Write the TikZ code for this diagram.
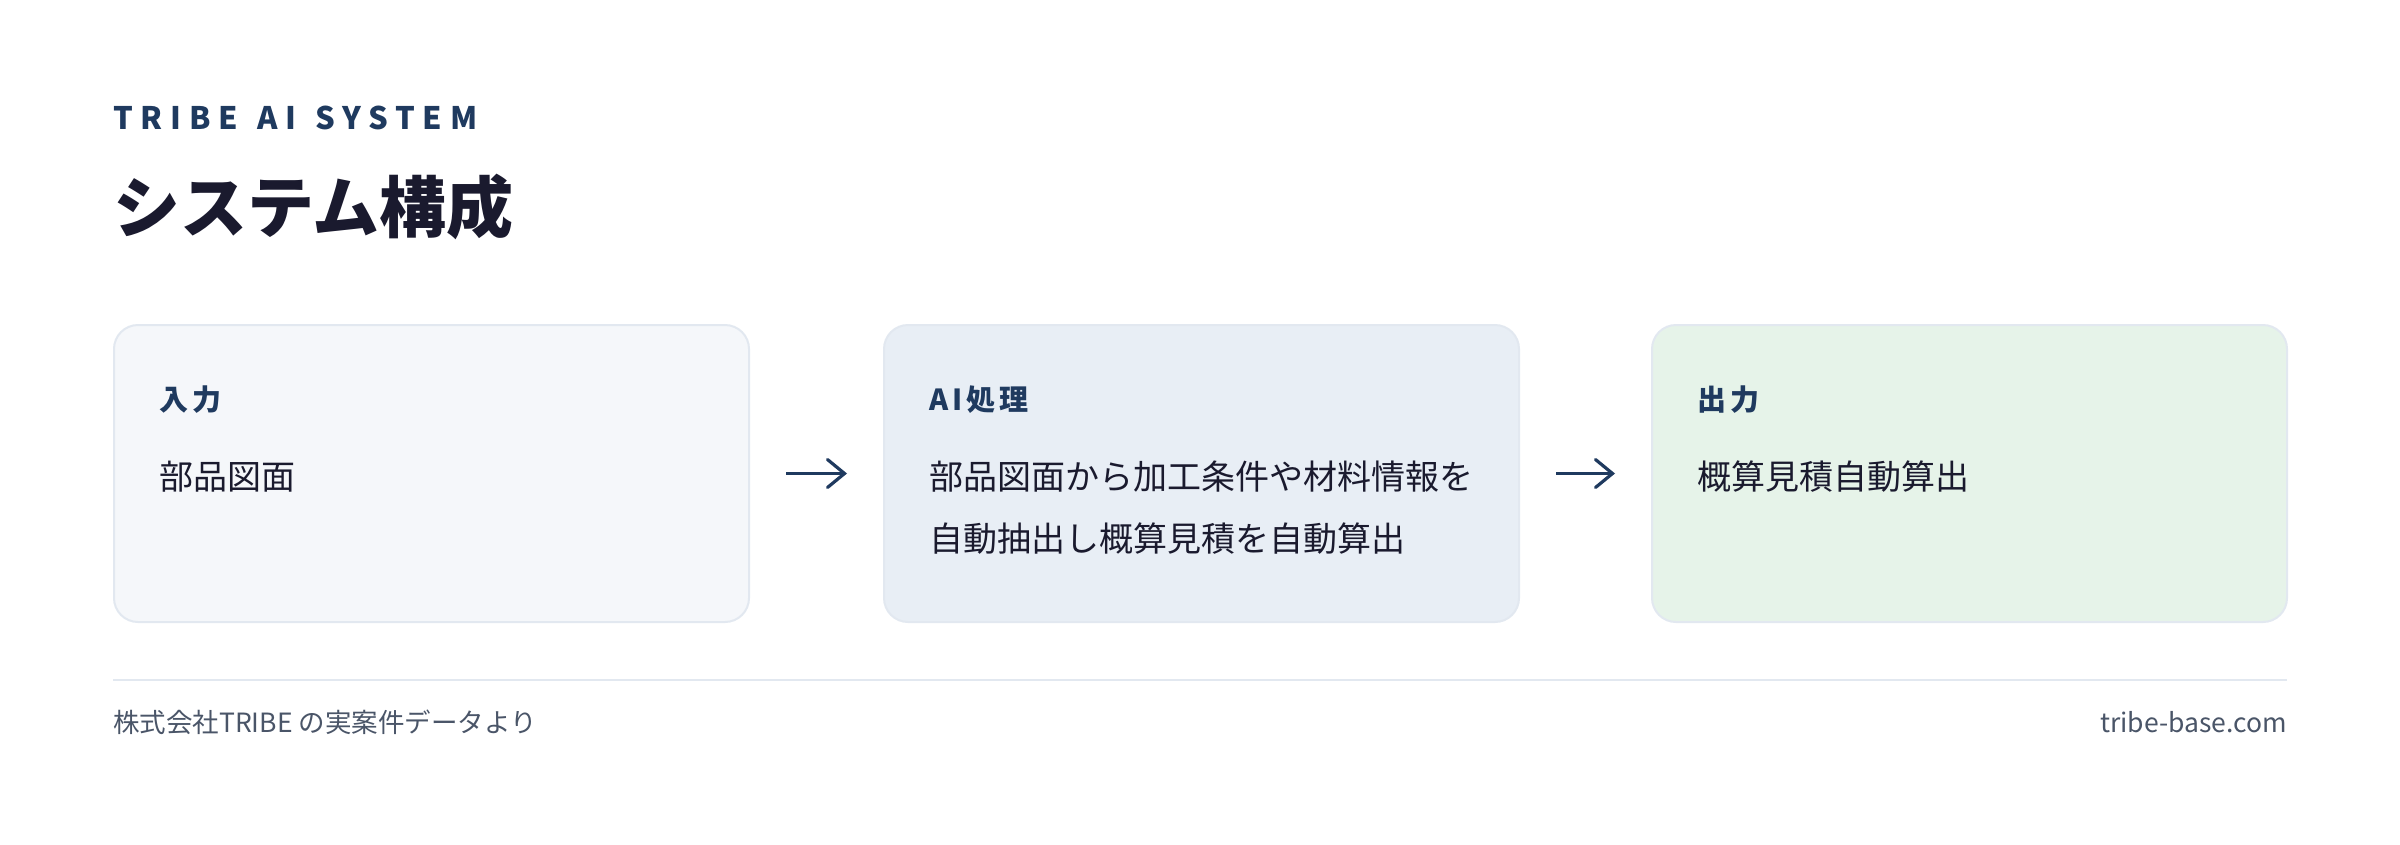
\documentclass[tikz,border=0pt]{standalone}
\usepackage{fontspec}
\setmainfont{Noto Sans CJK JP}
\newfontfamily\spacedfont[LetterSpace=25,WordSpace=1.3]{Noto Sans CJK JP}
\newfontfamily\headspaced[LetterSpace=14]{Noto Sans CJK JP}
\usetikzlibrary{arrows.meta}

\definecolor{navy}{HTML}{1F3A5F}
\definecolor{ink}{HTML}{1A1A2E}
\definecolor{boxone}{HTML}{F5F7FA}
\definecolor{boxtwo}{HTML}{E8EEF5}
\definecolor{boxthree}{HTML}{E6F3E9}
\definecolor{boxline}{HTML}{E2E8F0}
\definecolor{footgray}{HTML}{4A5568}

\begin{document}
\begin{tikzpicture}
[x=1pt,y=1pt,
  boxDecorate/.style={draw=boxline,line width=2pt,rounded corners=24pt,
    minimum width=635pt,minimum height=297pt,anchor=north west,inner sep=0pt},%
  headDecorate/.style={anchor=west,inner sep=0pt,text=navy,
    font=\headspaced\bfseries\fontsize{29}{34}\selectfont},%
  bodyDecorate/.style={anchor=west,inner sep=0pt,text=ink,align=left,
    font=\fontsize{34}{62}\selectfont},%
  arrowDecorate/.style={-{Straight Barb[length=17pt,width=28pt,line cap=round]},
    line width=3.2pt,draw=navy,shorten <=36pt,shorten >=36pt},%
  footDecorate/.style={inner sep=0pt,text=footgray,font=\fontsize{26.5}{30}\selectfont}]
%% canvas
\fill[white] (0,0) rectangle (2400,-844);
\useasboundingbox (0,0) rectangle (2400,-844);
%% title block
\node (kicker) at (113,-118) [anchor=west,inner sep=0pt,text=navy,
  font=\spacedfont\bfseries\fontsize{31}{36}\selectfont] {TRIBE AI SYSTEM};
\node (title) at (113,-207) [anchor=west,inner sep=0pt,text=ink,
  font=\bfseries\fontsize{67}{72}\selectfont] {システム構成};
%% boxes
\foreach \nodename/\x/\colour in {in/113/boxone, ai/883/boxtwo, out/1651/boxthree}
{
  \node (\nodename) at (\x,-324) [boxDecorate,fill=\colour] {};
}
%% headings and texts
\node (inhead) at (159,-400) [headDecorate] {入力};
\node (intext) at (159,-477) [bodyDecorate] {部品図面};
\node (aihead) at (929,-400) [headDecorate] {AI処理};
\node (aitext) at (929,-508) [bodyDecorate]
  {部品図面から加工条件や材料情報を\\自動抽出し概算見積を自動算出};
\node (outhead) at (1697,-400) [headDecorate] {出力};
\node (outtext) at (1697,-477) [bodyDecorate] {概算見積自動算出};
%% arrows
\path
\foreach \startnode/\endnode in {in/ai, ai/out}
{
  (\startnode) edge[arrowDecorate] (\endnode)
};
%% footer
\draw[boxline,line width=2pt] (113,-680) -- (2287,-680);
\node (source) at (113,-722) [footDecorate,anchor=west] {株式会社TRIBE の実案件データより};
\node (site) at (2287,-722) [footDecorate,anchor=east] {tribe-base.com};
\end{tikzpicture}
\end{document}
